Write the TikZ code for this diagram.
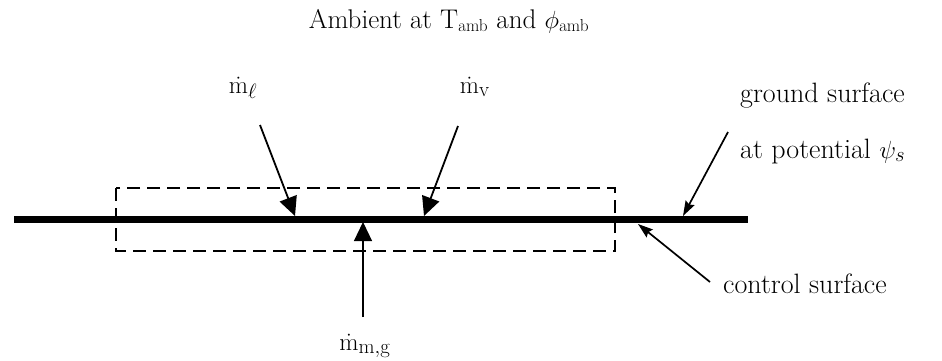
\documentclass[tikz,border=0pt]{standalone}
\usetikzlibrary{arrows.meta}
\begin{document}
\begin{tikzpicture}[x=1pt,y=-1pt,
  lbl/.style={inner sep=0pt,font=\fontsize{28}{34}\selectfont},
  mlbl/.style={inner sep=0pt,font=\fontsize{30}{36}\selectfont},
  bigarrow/.style={line width=1.8pt,-{Triangle[length=19pt,width=18pt]}},
  thinarrow/.style={line width=1.7pt,-{Stealth[length=15pt,width=10pt,inset=2pt]}},
  groundline/.style={line width=7pt},
  cvbox/.style={line width=1.8pt,dash pattern=on 13pt off 7pt}]
\useasboundingbox (0,0) rectangle (942,360);
% title
\node[lbl,anchor=base,font=\fontsize{27}{32}\selectfont] (title) at (449,28) {Ambient at T$_{\mathrm{amb}}$ and $\phi_{\mathrm{amb}}$};
% ground line
\coordinate (gL) at (14,219);
\coordinate (gR) at (748,219);
\draw[groundline] (gL) -- (gR);
% control volume box
\coordinate (bTL) at (116,188);
\coordinate (bBR) at (615,251);
\draw[cvbox] (bTL) rectangle (bBR);
% labels
\node[mlbl,anchor=base] (ml) at (243,93) {$\dot{\mathrm{m}}_{\ell}$};
\node[mlbl,anchor=base] (mv) at (475,93) {$\dot{\mathrm{m}}_{\mathrm{v}}$};
\node[mlbl,anchor=base] (mmg) at (365,350) {$\dot{\mathrm{m}}_{\mathrm{m,g}}$};
\node[lbl,anchor=base west] (gs1) at (740,102) {ground surface};
\node[lbl,anchor=base west] (gs2) at (740,158) {at potential $\psi_s$};
\node[lbl,anchor=base west] (cs) at (723,293) {control surface};
% arrow endpoints
\coordinate (mlT) at (260,125);
\coordinate (mlH) at (295,216);
\coordinate (mvT) at (458,126);
\coordinate (mvH) at (424,216);
\coordinate (mgT) at (363,317);
\coordinate (mgH) at (363,222);
\coordinate (gsT) at (728,132);
\coordinate (gsH) at (683,216);
\coordinate (csT) at (710,282);
\coordinate (csH) at (638,224);
\draw[bigarrow] (mlT) -- (mlH);
\draw[bigarrow] (mvT) -- (mvH);
\draw[bigarrow,line width=1.2pt] (mgT) -- (mgH);
\draw[thinarrow] (gsT) -- (gsH);
\draw[thinarrow] (csT) -- (csH);
\end{tikzpicture}
\end{document}
